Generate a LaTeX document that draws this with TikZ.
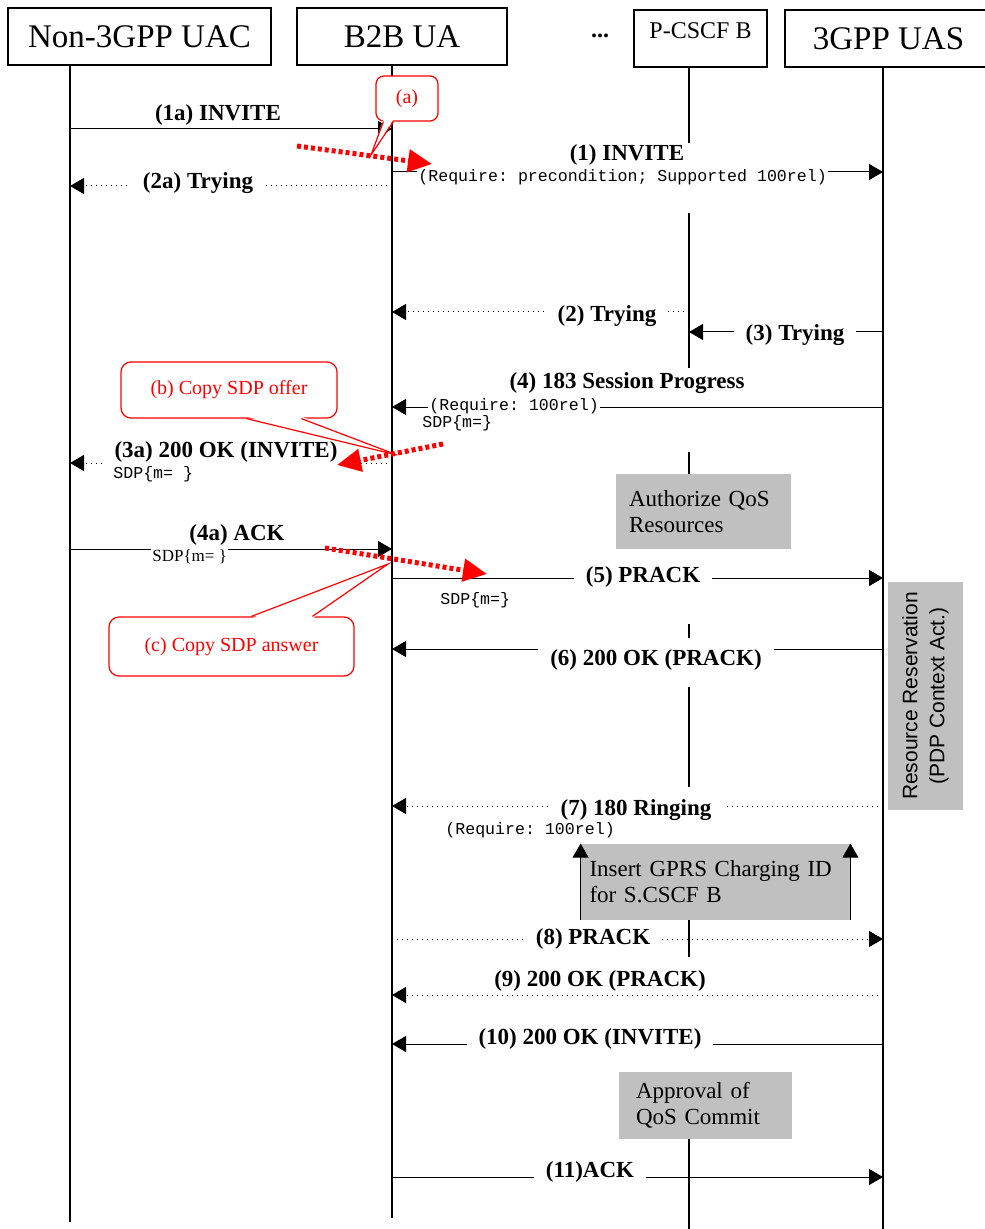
\documentclass[tikz,border=0pt]{standalone}
\usepackage{fontspec}
\setmainfont{Liberation Serif}
\setsansfont{Liberation Sans}
\setmonofont{Liberation Mono}
\usetikzlibrary{arrows.meta}
\definecolor{actiongray}{RGB}{192,192,192}

\begin{document}
\begin{tikzpicture}[
x=0.5pt, y=-0.5pt,
entity/.style={draw, line width=0.8pt, inner sep=0pt, minimum height=28.5pt, font=\fontsize{16.5}{18}\selectfont},
life/.style={line width=0.9pt},
msg/.style={line width=0.5pt, -{Triangle[length=7pt,width=8pt]}},
lbl/.style={fill=white, inner xsep=6pt, inner ysep=1pt, font=\fontsize{11.5}{13}\selectfont\bfseries},
param/.style={fill=white, anchor=west, inner sep=0.5pt, font=\fontsize{8.3}{10}\selectfont\ttfamily},
action/.style={fill=actiongray, align=left, inner ysep=0pt, font=\fontsize{11.5}{13}\selectfont},
note/.style={draw=red, text=red, fill=white, rounded corners=5pt, line width=0.6pt, inner sep=0pt, font=\fontsize{10}{12}\selectfont},
copyarrow/.style={red, line width=2.5pt, dash pattern=on 2pt off 1.5pt, -{Triangle[length=12pt,width=11pt]}}
]
\useasboundingbox (0,0) rectangle (984,1229);

% entities
\node[entity, minimum width=131.5pt] (uac) at (139.5,36.5) {Non-3GPP UAC};
\node[entity, minimum width=105pt] (b2b) at (402,36.5) {B2B UA};
\node[font=\fontsize{12}{14}\selectfont\bfseries] (dots) at (600,36) {...};
\node[entity, minimum width=66.5pt, text height=8pt, text depth=8pt, font=\fontsize{12}{14}\selectfont] (pc) at (700.5,38.5) {P-CSCF B};
\node[entity, minimum width=103.5pt] (uas) at (888.5,38.5) {3GPP UAS};

% lifelines
\coordinate (uacTop) at (70,65);
\coordinate (uacEnd) at (70,1222);
\coordinate (b2bTop) at (392,65);
\coordinate (b2bEnd) at (392,1218);
\coordinate (pcTop) at (689,67);
\coordinate (uasTop) at (883,67);
\coordinate (uasEnd) at (883,1229);

\draw[life, line width=1.2pt] (uacTop) -- (uacEnd);
\draw[life] (b2bTop) -- (b2bEnd);
\draw[life] (uasTop) -- (uasEnd);
\foreach \ya/\yb in {67/145, 213/368, 452/474, 624/638, 687/787, 920/957, 1139/1229}
  \draw[life] (pcTop |- 0,\ya) -- (pcTop |- 0,\yb);

% actions
\node[action, minimum width=87.5pt, minimum height=37.5pt, inner xsep=6.5pt, text width=74.5pt] (authqos) at (703.5,511.5) {Authorize QoS\\Resources};
\node[action, minimum width=134.5pt, minimum height=38pt, inner xsep=4.25pt, text width=126pt] (gprs) at (715.5,882) {Insert GPRS Charging ID\\for S.CSCF B};
\node[action, minimum width=86.5pt, minimum height=33.5pt, inner xsep=8.5pt, text width=69.5pt] (commit) at (705.5,1105.5) {Approval of\\QoS Commit};
\node[action, rotate=90, align=center, minimum width=114pt, minimum height=37.5pt, font=\fontsize{10.5}{13.5}\selectfont\sffamily] (resv) at (925.5,696) {Resource Reservation\\(PDP Context Act.)};

\draw[msg] (gprs.south west) -- (gprs.north west);
\draw[msg] (gprs.south east) -- (gprs.north east);

% messages
\draw[msg] (uacTop |- 0,129) -- (b2bTop |- 0,129);
\draw[msg] (b2bTop |- 0,172) -- (uasTop |- 0,172);
\draw[msg, dotted] (b2bTop |- 0,186) -- (uacTop |- 0,186);
\draw[msg, dotted] (pcTop |- 0,312) -- (b2bTop |- 0,312);
\draw[msg] (uasTop |- 0,332) -- (pcTop |- 0,332);
\draw[msg] (uasTop |- 0,407) -- (b2bTop |- 0,407);
\draw[msg, dotted] (b2bTop |- 0,463) -- (uacTop |- 0,463);
\draw[msg] (uacTop |- 0,549) -- (b2bTop |- 0,549);
\draw[msg] (b2bTop |- 0,578) -- (uasTop |- 0,578);
\draw[msg] (uasTop |- 0,649) -- (b2bTop |- 0,649);
\draw[msg, dotted] (uasTop |- 0,806) -- (b2bTop |- 0,806);
\draw[msg, dotted] (b2bTop |- 0,939) -- (uasTop |- 0,939);
\draw[msg, dotted] (uasTop |- 0,995) -- (b2bTop |- 0,995);
\draw[msg] (uasTop |- 0,1044) -- (b2bTop |- 0,1044);
\draw[msg] (b2bTop |- 0,1177) -- (uasTop |- 0,1177);

\node[lbl] (m1a) at (218,115) {(1a) INVITE};
\node[lbl] (m1) at (627,155) {(1) INVITE};
\node[lbl] (m2a) at (198,183) {(2a) Trying};
\node[lbl] (m2) at (607,316) {(2) Trying};
\node[lbl] (m3) at (795,335) {(3) Trying};
\node[lbl] (m4) at (627,383) {(4) 183 Session Progress};
\node[lbl] (m3a) at (226,452) {(3a) 200 OK (INVITE)};
\node[lbl] (m4a) at (237,535) {(4a) ACK};
\node[lbl] (m5) at (643,577) {(5) PRACK};
\node[lbl] (m6) at (656,660) {(6) 200 OK (PRACK)};
\node[lbl] (m7) at (636,810) {(7) 180 Ringing};
\node[lbl] (m8) at (593,939) {(8) PRACK};
\node[lbl] (m9) at (600,981) {(9) 200 OK (PRACK)};
\node[lbl] (m10) at (590,1039) {(10) 200 OK (INVITE)};
\node[lbl] (m11) at (590,1172) {(11)ACK};

% message parameters
\node[param] (p1) at (417,177) {(Require: precondition; Supported 100rel)};
\node[param] (p4a) at (428,406) {(Require: 100rel)};
\node[param] (p4b) at (421,423) {SDP\{m=\}};
\node[param] (p3a) at (112,474) {SDP\{m=\ \}};
\node[param, font=\fontsize{8.5}{10}\selectfont] (p4ack) at (151,557) {SDP\{m= \}};
\node[param] (p5) at (439,600) {SDP\{m=\}};
\node[param] (p7) at (444,830) {(Require: 100rel)};

% notes
\node[note, rounded corners=4pt, minimum width=31pt, minimum height=22.5pt] (notea) at (407,98.5) {(a)};
\coordinate (tipa) at (371,155);
\fill[white] ([xshift=4pt,yshift=1pt]notea.south west) -- (tipa) -- ([xshift=9pt,yshift=1pt]notea.south west) -- cycle;
\draw[red, line width=0.6pt] ([xshift=4pt]notea.south west) -- (tipa) -- ([xshift=9pt]notea.south west);

\node[note, minimum width=108pt, minimum height=28pt] (noteb) at (229,390) {(b) Copy SDP offer};
\coordinate (tipb) at (397,455);
\fill[white] ([xshift=63pt,yshift=1pt]noteb.south west) -- (tipb) -- ([xshift=90.5pt,yshift=1pt]noteb.south west) -- cycle;
\draw[red, line width=0.6pt] ([xshift=63pt]noteb.south west) -- (tipb) -- ([xshift=90.5pt]noteb.south west);

\node[note, minimum width=122.5pt, minimum height=29.5pt] (notec) at (231.5,646.5) {(c) Copy SDP answer};
\coordinate (tipc) at (388,564);
\fill[white] ([xshift=71.5pt,yshift=-1pt]notec.north west) -- (tipc) -- ([xshift=102pt,yshift=-1pt]notec.north west) -- cycle;
\draw[red, line width=0.6pt] ([xshift=71.5pt]notec.north west) -- (tipc) -- ([xshift=102pt]notec.north west);

% SDP copies
\coordinate (copyA1) at (297,146);
\coordinate (copyA2) at (432,164);
\coordinate (copyB1) at (443,444);
\coordinate (copyB2) at (337,465);
\coordinate (copyC1) at (325,548);
\coordinate (copyC2) at (487,574);
\draw[copyarrow] (copyA1) -- (copyA2);
\draw[copyarrow] (copyB1) -- (copyB2);
\draw[copyarrow] (copyC1) -- (copyC2);
\end{tikzpicture}
\end{document}
